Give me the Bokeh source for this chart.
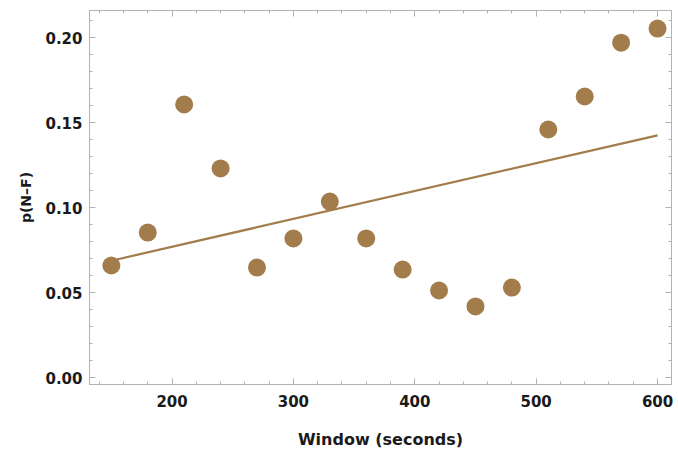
import numpy as np
from bokeh.plotting import figure
from bokeh.models import (LinearAxis, SingleIntervalTicker, PrintfTickFormatter, Range1d,
                          CustomLabelingPolicy)
from bokeh.embed import file_html
from bokeh.resources import INLINE

window = [150, 180, 210, 240, 270, 300, 330, 360, 390, 420, 450, 480, 510, 540, 570, 600]
p_nf = [0.0659, 0.0853, 0.1606, 0.1230, 0.0647, 0.0818, 0.1035, 0.0818,
        0.0635, 0.0512, 0.0418, 0.0529, 0.1459, 0.1653, 0.1970, 0.2053]

slope, intercept = np.polyfit(window, p_nf, 1)
fit_x = [min(window), max(window)]
fit_y = [slope * x + intercept for x in fit_x]

COL = "#a27d4b"
FRAME = "#b3b3b3"
FONT = "DejaVu Sans"

p = figure(width=676, height=453, output_backend="svg", toolbar_location=None,
           x_range=Range1d(132, 611.5), y_range=Range1d(-0.0041, 0.2159),
           x_axis_location=None, y_axis_location=None,
           min_border_left=89, min_border_right=4, min_border_top=10, min_border_bottom=69)
p.background_fill_color = "white"
p.border_fill_color = "white"
p.outline_line_color = FRAME
p.xgrid.visible = False
p.ygrid.visible = False

def style(ax, labels):
    ax.axis_line_color = FRAME
    ax.major_tick_line_color = FRAME
    ax.minor_tick_line_color = FRAME
    ax.major_tick_in = 6
    ax.major_tick_out = 0
    ax.minor_tick_in = 3
    ax.minor_tick_out = 0
    if labels:
        ax.major_label_text_font = FONT
        ax.major_label_text_font_style = "bold"
        ax.major_label_text_font_size = "15px"
        ax.major_label_text_color = "#1a1a1a"
        ax.axis_label_text_font = FONT
        ax.axis_label_text_font_style = "bold"
        ax.axis_label_text_font_size = "16px"
        ax.axis_label_text_color = "#1a1a1a"
    else:
        ax.major_label_text_font_size = "1px"
        ax.major_label_standoff = 0
        ax.major_label_policy = CustomLabelingPolicy(
            code="for (const i of indices) indices.unset(i)\nreturn indices")

xt = lambda: SingleIntervalTicker(interval=100, num_minor_ticks=5)
yt = lambda: SingleIntervalTicker(interval=0.05, num_minor_ticks=5)

xb = LinearAxis(ticker=xt(), axis_label="Window (seconds)")
style(xb, True)
xb.major_label_standoff = 10
xb.axis_label_standoff = 20
p.add_layout(xb, "below")

xa = LinearAxis(ticker=xt())
style(xa, False)
p.add_layout(xa, "above")

yl = LinearAxis(ticker=yt(), axis_label="p(N\u2013F)",
                formatter=PrintfTickFormatter(format="%.2f"))
style(yl, True)
yl.major_label_standoff = 7
yl.axis_label_standoff = 8
yl.axis_label_text_font_size = "14px"
p.add_layout(yl, "left")

yr = LinearAxis(ticker=yt())
style(yr, False)
p.add_layout(yr, "right")

p.line(fit_x, fit_y, line_color=COL, line_width=2.2)
p.scatter(window, p_nf, size=18, fill_color=COL, line_color=COL, line_width=0)

open("out.html", "w").write(file_html(p, INLINE))
